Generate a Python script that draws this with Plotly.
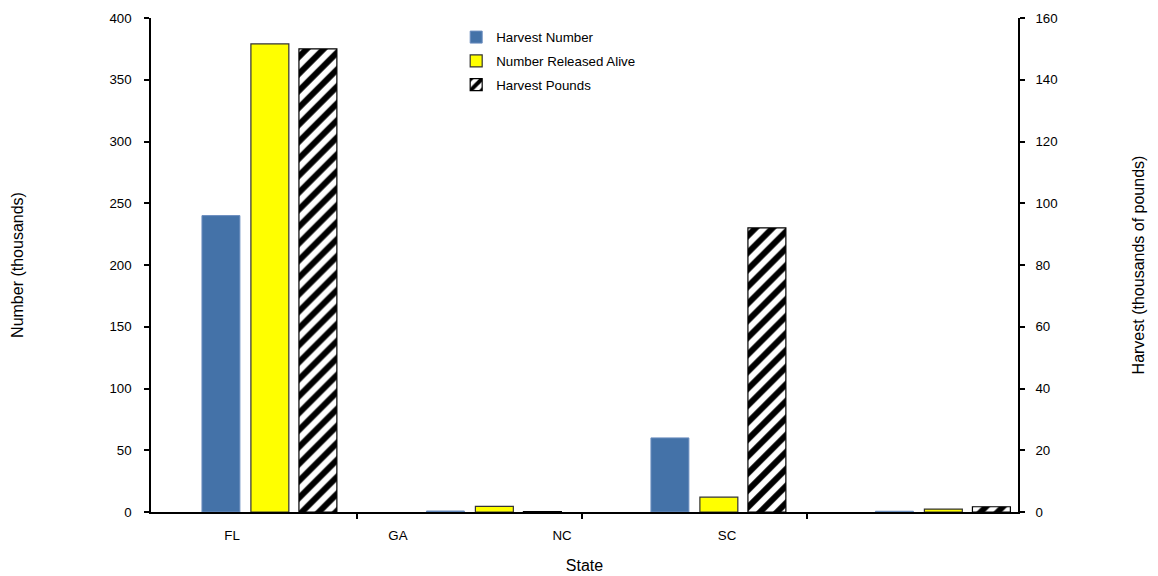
import plotly.graph_objects as go

states = ["FL", "GA", "NC", "SC"]
harvest_number = [240, 0.8, 60, 0.6]          # thousands of fish (left axis)
released_alive = [379, 4.5, 12, 2.4]          # thousands of fish (left axis)
harvest_pounds = [150, 0.1, 92, 1.7]          # thousands of pounds (right axis)

xpos = list(range(len(states)))
FONT = "Liberation Sans, Arial, sans-serif"

fig = go.Figure()
fig.add_trace(go.Bar(
    x=xpos, y=harvest_number, name="Harvest Number",
    marker=dict(color="#4472A8", line=dict(color="#6C8EBF", width=1)),
    width=0.169, offset=-0.303, yaxis="y", legendgroup="a"))
fig.add_trace(go.Bar(
    x=xpos, y=released_alive, name="Number Released Alive",
    marker=dict(color="#FFFF00", line=dict(color="#333333", width=1.2)),
    width=0.169, offset=-0.085, yaxis="y", legendgroup="b"))
fig.add_trace(go.Bar(
    x=xpos, y=harvest_pounds, name="Harvest Pounds",
    marker=dict(color="white", line=dict(color="black", width=1.2),
                pattern=dict(shape="/", fgcolor="black", bgcolor="white",
                             size=12, solidity=0.5, fgopacity=1)),
    width=0.169, offset=0.129, yaxis="y2", legendgroup="c"))

fig.update_layout(
    width=1150, height=568,
    margin=dict(l=143, r=140, t=10, b=64),
    paper_bgcolor="white", plot_bgcolor="white",
    font=dict(family=FONT, size=13.3, color="black"),
    barmode="overlay",
    showlegend=True,
    legend=dict(x=0.352, y=0.992, xanchor="left", yanchor="top",
                bgcolor="rgba(0,0,0,0)", font=dict(size=13.3),
                traceorder="grouped", tracegroupgap=3.5),
    xaxis=dict(
        range=[-0.53, 3.332], showgrid=False, zeroline=False, automargin=False,
        showline=True, linecolor="black", linewidth=1.5,
        tickmode="array", tickvals=[-0.169, 0.570, 1.301, 2.036], ticktext=states,
        ticks="", ticklabelstandoff=10,
        minor=dict(tickmode="array", tickvals=[0.3875, 1.390, 2.392],
                   ticks="outside", ticklen=5, tickcolor="black", tickwidth=1.5),
        title=dict(text="State", standoff=18),
    ),
    yaxis=dict(
        range=[0, 400], dtick=50, showgrid=False, zeroline=False, automargin=False,
        showline=True, linecolor="black", linewidth=1.5,
        ticks="outside", ticklen=5, tickcolor="black", tickwidth=1.5,
        ticklabelstandoff=10,
        title=dict(text="Number (thousands)", standoff=82),
    ),
    yaxis2=dict(
        range=[0, 160], dtick=20, overlaying="y", side="right", automargin=False,
        showgrid=False, zeroline=False,
        showline=True, linecolor="black", linewidth=1.5,
        ticks="outside", ticklen=5, tickcolor="black", tickwidth=1.5,
        ticklabelstandoff=8,
        title=dict(text="Harvest (thousands of pounds)", standoff=76),
    ),
)

fig.write_html("out.html")
